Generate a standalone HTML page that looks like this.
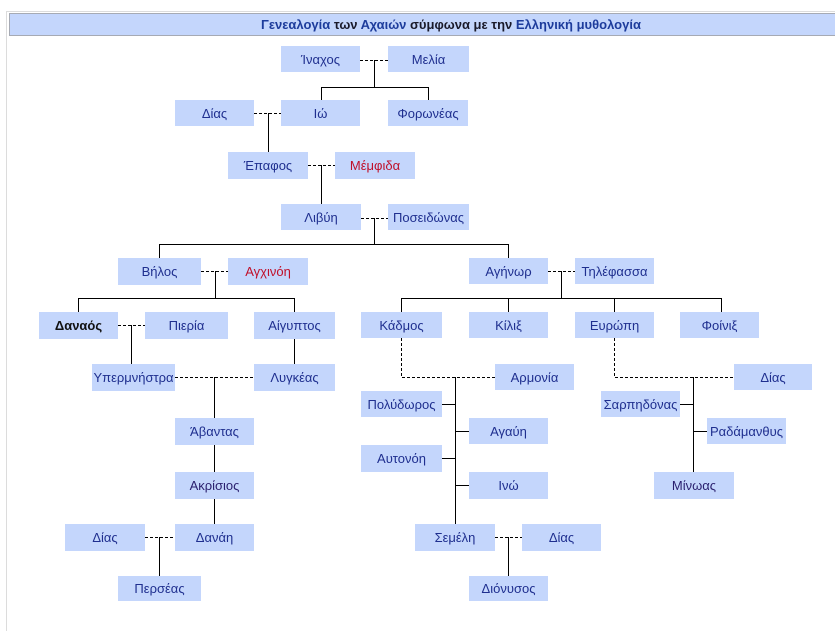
<!DOCTYPE html>
<html><head><meta charset="utf-8">
<style>
html,body{margin:0;padding:0;background:#fff;width:835px;height:631px;overflow:hidden;position:relative;font-family:"Liberation Sans","DejaVu Sans",sans-serif;}
.frame{position:absolute;left:6px;top:11px;width:900px;height:640px;border-left:1px solid #dcdcdc;border-top:1px solid #dcdcdc;}
.hdr{position:absolute;left:9px;top:13px;width:882px;height:21px;background:#c4d6fc;border:1px solid #a6aab4;text-align:center;font-size:13px;font-weight:bold;line-height:21px;color:#1a1a2a;}
.hdr a{color:#1d3c9c;text-decoration:none;}
.b{position:absolute;background:#c4d6fc;color:#1f2f8f;font-size:13px;text-align:center;display:flex;align-items:center;justify-content:center;white-space:nowrap;}
.r{color:#c0102a;}
.k{color:#111;font-weight:bold;}
.p{color:#2a1f6e;}
svg{position:absolute;left:0;top:0;}
</style></head><body>
<div class="frame"></div>
<div class="hdr"><a>Γενεαλογία</a> των <a>Αχαιών</a> σύμφωνα με την <a>Ελληνική μυθολογία</a></div>

<svg width="835" height="631" viewBox="0 0 835 631" shape-rendering="crispEdges">
<g stroke="#000" stroke-width="1" fill="none">
<path d="M374.5 60V87.5M321.5 87.5H428.5M321.5 87V100M428.5 87V100
M268.5 113V152
M321.5 165V204
M374.5 218V244.5M159.5 244.5H508.5M159.5 244V258M508.5 244V258
M215.5 271V298.5M78.5 298.5H294.5M78.5 298V312M294.5 298V312
M561.5 271V298.5M401.5 298.5H721.5M401.5 298V312M508.5 298V312M614.5 298V312M721.5 298V312
M131.5 325V364
M294.5 339V364
M214.5 377V418M214.5 445V472M214.5 499V524
M159.5 537V576
M455.5 377V524M442 404.5H456M456 431.5H469M442 458.5H456M456 485.5H469
M508.5 537V576
M693.5 377V472M680 404.5H694M694 431.5H707"/>
</g>
<g stroke="#000" stroke-width="1" fill="none" stroke-dasharray="3,2">
<path d="M360 60.5H388M254 113.5H281M308 165.5H335M361 218.5H388M201 271.5H228M548 271.5H575M118 325.5H145M175 377.5H254
M401.5 338V377.5H495M614.5 338V377.5H734M145 537.5H175M495 537.5H522"/>
</g>
</svg>

<div class="b" style="left:281px;top:46px;width:79px;height:26px">Ίναχος</div>
<div class="b" style="left:388px;top:46px;width:81px;height:26px">Μελία</div>
<div class="b" style="left:175px;top:100px;width:79px;height:26px">Δίας</div>
<div class="b" style="left:281px;top:100px;width:79px;height:26px">Ιώ</div>
<div class="b" style="left:388px;top:100px;width:80px;height:26px">Φορωνέας</div>
<div class="b" style="left:228px;top:152px;width:80px;height:27px">Έπαφος</div>
<div class="b r" style="left:335px;top:152px;width:80px;height:27px">Μέμφιδα</div>
<div class="b" style="left:281px;top:204px;width:80px;height:26px">Λιβύη</div>
<div class="b" style="left:388px;top:204px;width:81px;height:26px">Ποσειδώνας</div>
<div class="b" style="left:118px;top:258px;width:83px;height:27px">Βήλος</div>
<div class="b r" style="left:228px;top:258px;width:80px;height:27px">Αγχινόη</div>
<div class="b" style="left:469px;top:258px;width:79px;height:26px">Αγήνωρ</div>
<div class="b" style="left:575px;top:258px;width:79px;height:26px">Τηλέφασσα</div>
<div class="b k" style="left:39px;top:312px;width:79px;height:27px">Δαναός</div>
<div class="b" style="left:145px;top:312px;width:83px;height:27px">Πιερία</div>
<div class="b" style="left:254px;top:312px;width:81px;height:27px">Αίγυπτος</div>
<div class="b" style="left:361px;top:312px;width:81px;height:26px">Κάδμος</div>
<div class="b" style="left:469px;top:312px;width:79px;height:26px">Κίλιξ</div>
<div class="b" style="left:575px;top:312px;width:79px;height:26px">Ευρώπη</div>
<div class="b" style="left:680px;top:312px;width:79px;height:26px">Φοίνιξ</div>
<div class="b" style="left:92px;top:364px;width:83px;height:27px">Υπερμνήστρα</div>
<div class="b" style="left:254px;top:364px;width:81px;height:27px">Λυγκέας</div>
<div class="b" style="left:495px;top:364px;width:79px;height:26px">Αρμονία</div>
<div class="b" style="left:734px;top:364px;width:78px;height:26px">Δίας</div>
<div class="b" style="left:361px;top:391px;width:81px;height:26px">Πολύδωρος</div>
<div class="b" style="left:601px;top:391px;width:79px;height:26px">Σαρπηδόνας</div>
<div class="b" style="left:175px;top:418px;width:79px;height:27px">Άβαντας</div>
<div class="b" style="left:469px;top:418px;width:79px;height:26px">Αγαύη</div>
<div class="b" style="left:707px;top:418px;width:79px;height:26px">Ραδάμανθυς</div>
<div class="b" style="left:361px;top:445px;width:81px;height:27px">Αυτονόη</div>
<div class="b p" style="left:175px;top:472px;width:79px;height:27px">Ακρίσιος</div>
<div class="b" style="left:469px;top:472px;width:79px;height:27px">Ινώ</div>
<div class="b p" style="left:654px;top:472px;width:80px;height:27px">Μίνωας</div>
<div class="b" style="left:65px;top:524px;width:80px;height:27px">Δίας</div>
<div class="b" style="left:175px;top:524px;width:79px;height:27px">Δανάη</div>
<div class="b" style="left:415px;top:524px;width:80px;height:27px">Σεμέλη</div>
<div class="b" style="left:522px;top:524px;width:79px;height:27px">Δίας</div>
<div class="b" style="left:118px;top:576px;width:83px;height:25px">Περσέας</div>
<div class="b" style="left:469px;top:576px;width:79px;height:25px">Διόνυσος</div>
</body></html>
